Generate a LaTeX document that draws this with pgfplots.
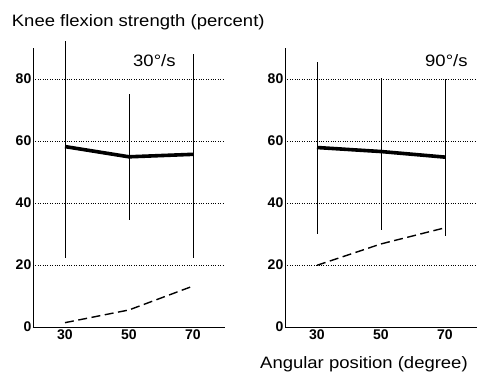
\documentclass[border=0pt]{standalone}
\usepackage{fontspec}
\setmainfont{Liberation Sans}
\usepackage{pgfplots}
\pgfplotsset{compat=1.18}
\pgfplotsset{
  panel/.style={
    scale only axis, width=192pt, height=279pt,
    xmin=20, xmax=80, ymin=0, ymax=90,
    axis x line*=bottom, axis y line*=left,
    axis line style={-, line width=0.9pt},
    xtick={30,50,70}, ytick={0,20,40,60,80},
    ymajorgrids, grid style={black, line width=0.8pt, dash pattern=on 0.8pt off 1.6pt},
    major tick length=0pt,
    /pgf/number format/assume math mode=true,
    tick label style={font=\bfseries\fontsize{14}{14}\selectfont},
    yticklabel style={anchor=east, inner sep=0pt, xshift=-1.5pt},
    xticklabel style={anchor=north, inner sep=0pt, yshift=-3pt},
    clip=false,
  },
  meanline/.style={black, line width=3.6pt, line join=round},
  sdbars/.style={draw=none, error bars/.cd, y dir=both, y explicit, error mark=none,
    error bar style={black, line width=0.9pt}},
  lowline/.style={black, line width=1.4pt, dash pattern=on 9pt off 4.5pt},
}
\newcommand{\lbl}[1]{\scalebox{1.12}[1]{\fontsize{16.5}{16.5}\selectfont #1}}
\begin{document}
\begin{tikzpicture}
\useasboundingbox (-33pt,-45pt) rectangle (444pt,327pt);
% Left panel: 30 deg/s
\begin{axis}[panel, at={(0pt,0pt)}, anchor=south west]
\addplot[meanline] coordinates {(30,58.2) (50,54.9) (70,55.7)};
\addplot[sdbars] coordinates {
  (30,58.2) += (0,34.1) -= (0,36.0)
  (50,54.9) += (0,20.3) -= (0,20.4)
  (70,55.7) += (0,32.3) -= (0,33.3)
};
\addplot[lowline] coordinates {(30,1.4) (50,5.5) (70,13.2)};
\end{axis}
% Right panel: 90 deg/s
\begin{axis}[panel, at={(252pt,0pt)}, anchor=south west]
\addplot[meanline] coordinates {(30,57.9) (50,56.6) (70,54.8)};
\addplot[sdbars] coordinates {
  (30,57.9) += (0,27.7) -= (0,28.0)
  (50,56.6) += (0,23.6) -= (0,25.4)
  (70,54.8) += (0,25.1) -= (0,25.3)
};
\addplot[lowline] coordinates {(30,19.9) (50,26.8) (70,32.0)};
\end{axis}
\node[anchor=base west, inner sep=0pt] at (-21.3pt,300.3pt) {\lbl{Knee flexion strength (percent)}};
\node[anchor=base west, inner sep=0pt] at (100pt,260.3pt) {\lbl{30°/s}};
\node[anchor=base west, inner sep=0pt] at (392pt,260.3pt) {\lbl{90°/s}};
\node[anchor=base west, inner sep=0pt] at (227pt,-42pt) {\lbl{Angular position (degree)}};
\end{tikzpicture}
\end{document}
